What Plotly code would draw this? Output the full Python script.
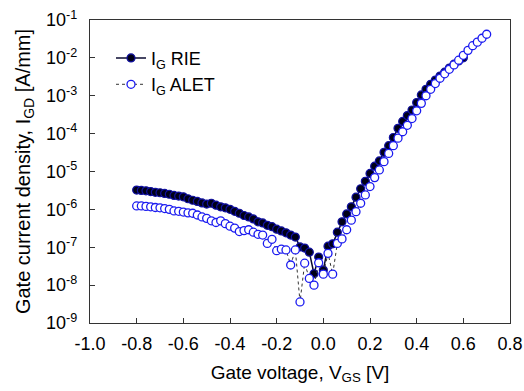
import plotly.graph_objects as go

# Gate voltage (V)
vgs_rie = [-0.80, -0.78, -0.76, -0.74, -0.72, -0.70, -0.68, -0.66, -0.64, -0.62,
           -0.60, -0.58, -0.56, -0.54, -0.52, -0.50, -0.48, -0.46, -0.44, -0.42,
           -0.40, -0.38, -0.36, -0.34, -0.32, -0.30, -0.28, -0.26, -0.24, -0.22,
           -0.20, -0.18, -0.16, -0.14, -0.12, -0.10, -0.08, -0.06, -0.04, -0.02,
           0.00, 0.02, 0.04, 0.06, 0.08, 0.10, 0.12, 0.14, 0.16, 0.18,
           0.20, 0.22, 0.24, 0.26, 0.28, 0.30, 0.32, 0.34, 0.36, 0.38,
           0.40, 0.42, 0.44, 0.46, 0.48, 0.50, 0.52, 0.54, 0.56, 0.58, 0.60]

ig_rie = [3.24e-6, 3.16e-6, 3.09e-6, 2.95e-6, 2.82e-6, 2.75e-6, 2.63e-6, 2.51e-6, 2.34e-6, 2.24e-6,
          2.14e-6, 1.91e-6, 1.74e-6, 1.62e-6, 1.48e-6, 1.38e-6, 1.45e-6, 1.29e-6, 1.17e-6, 1.10e-6,
          1.00e-6, 8.9e-7, 7.9e-7, 6.9e-7, 6.3e-7, 5.6e-7, 4.7e-7, 4.4e-7, 3.8e-7, 3.5e-7,
          3.0e-7, 2.7e-7, 2.4e-7, 2.1e-7, 1.86e-7, 1.02e-7, 9.5e-8, 7.4e-8, 2.0e-8, 5.5e-8,
          2.5e-8, 1.07e-7, 1.23e-7, 2.5e-7, 4.7e-7, 7.6e-7, 1.17e-6, 2.1e-6, 3.5e-6, 5.5e-6,
          8.9e-6, 1.38e-5, 1.9e-5, 3.2e-5, 4.8e-5, 7.9e-5, 1.38e-4, 2.1e-4, 3.0e-4, 4.2e-4,
          6.6e-4, 1.05e-3, 1.48e-3, 2.0e-3, 2.6e-3, 3.3e-3, 4.2e-3, 5.4e-3, 6.8e-3, 8.3e-3, 1.0e-2]

vgs_alet = [-0.80, -0.78, -0.76, -0.74, -0.72, -0.70, -0.68, -0.66, -0.64, -0.62,
            -0.60, -0.58, -0.56, -0.54, -0.52, -0.50, -0.48, -0.46, -0.44, -0.42,
            -0.40, -0.38, -0.36, -0.34, -0.32, -0.30, -0.28, -0.26, -0.24, -0.22,
            -0.20, -0.18, -0.16, -0.14, -0.12, -0.10, -0.08, -0.06, -0.04, -0.02,
            0.00, 0.02, 0.04, 0.06, 0.08, 0.10, 0.12, 0.14, 0.16, 0.18,
            0.20, 0.22, 0.24, 0.26, 0.28, 0.30, 0.32, 0.34, 0.36, 0.38,
            0.40, 0.42, 0.44, 0.46, 0.48, 0.50, 0.52, 0.54, 0.56, 0.58,
            0.60, 0.62, 0.64, 0.66, 0.68, 0.70]

ig_alet = [1.23e-6, 1.23e-6, 1.20e-6, 1.17e-6, 1.12e-6, 1.10e-6, 1.05e-6, 1.00e-6, 9.1e-7, 8.9e-7,
           8.5e-7, 8.1e-7, 7.9e-7, 7.1e-7, 6.3e-7, 5.8e-7, 5.0e-7, 4.5e-7, 5.0e-7, 4.2e-7,
           3.6e-7, 3.2e-7, 2.6e-7, 2.75e-7, 2.9e-7, 2.5e-7, 2.2e-7, 2.1e-7, 1.26e-7, 1.62e-7,
           8.1e-8, 8.9e-8, 8.5e-8, 3.4e-8, 8.5e-8, 3.6e-9, 3.8e-8, 1.5e-8, 1.0e-8, 3.9e-8,
           1.95e-8, 6.9e-8, 1.95e-8, 1.26e-7, 1.66e-7, 2.9e-7, 5.2e-7, 8.7e-7, 1.45e-6, 2.4e-6,
           4.0e-6, 6.9e-6, 1.10e-5, 1.82e-5, 3.0e-5, 4.8e-5, 7.6e-5, 1.12e-4, 1.66e-4, 2.5e-4,
           4.0e-4, 6.3e-4, 1.0e-3, 1.48e-3, 2.1e-3, 2.9e-3, 3.8e-3, 5.0e-3, 6.5e-3, 8.7e-3,
           1.17e-2, 1.58e-2, 2.1e-2, 2.6e-2, 3.3e-2, 4.2e-2]

x_tickvals = [-1.0, -0.8, -0.6, -0.4, -0.2, 0.0, 0.2, 0.4, 0.6, 0.8]
x_ticktext = ["-1.0", "-0.8", "-0.6", "-0.4", "-0.2", "0.0", "0.2", "0.4", "0.6", "0.8"]
y_tickvals = [1e-9, 1e-8, 1e-7, 1e-6, 1e-5, 1e-4, 1e-3, 1e-2, 1e-1]
y_ticktext = ["10<sup>-9</sup>", "10<sup>-8</sup>", "10<sup>-7</sup>", "10<sup>-6</sup>",
              "10<sup>-5</sup>", "10<sup>-4</sup>", "10<sup>-3</sup>", "10<sup>-2</sup>",
              "10<sup>-1</sup>"]

FONT = "Liberation Sans, Arial, sans-serif"

fig = go.Figure()
fig.add_trace(go.Scatter(
    x=vgs_rie, y=ig_rie, mode="lines+markers", name="I<sub>G</sub> RIE",
    line=dict(color="#0a0a30", width=1.5),
    marker=dict(symbol="circle", size=8, color="#000018",
                line=dict(color="#1010a0", width=1.2)),
))
fig.add_trace(go.Scatter(
    x=vgs_alet, y=ig_alet, mode="lines+markers", name="I<sub>G</sub> ALET",
    line=dict(color="#333333", width=1, dash="dot"),
    marker=dict(symbol="circle", size=8, color="white",
                line=dict(color="#1a1af0", width=1.3)),
))

fig.update_layout(
    width=524, height=391,
    margin=dict(l=90, r=14, t=20, b=68, autoexpand=False),
    paper_bgcolor="white", plot_bgcolor="white",
    font=dict(family=FONT, size=17, color="black"),
    showlegend=True,
    legend=dict(x=0.05, y=0.935, xanchor="left", yanchor="top",
                bgcolor="rgba(0,0,0,0)", font=dict(size=18),
                tracegroupgap=0, itemwidth=30),
    xaxis=dict(
        range=[-1.0, 0.8], tickvals=x_tickvals, ticktext=x_ticktext,
        ticks="inside", ticklen=5, tickwidth=1, tickcolor="#333",
        showline=True, linecolor="#333", linewidth=1.2, mirror=True,
        showgrid=False, zeroline=False, automargin=False,
        tickfont=dict(size=18), ticklabelstandoff=4,
        title=dict(text="Gate voltage, V<sub>GS</sub> [V]", font=dict(size=19), standoff=12),
    ),
    yaxis=dict(
        type="log", range=[-9, -1], tickvals=y_tickvals, ticktext=y_ticktext,
        ticks="inside", ticklen=5, tickwidth=1, tickcolor="#333",
        showline=True, linecolor="#333", linewidth=1.2, mirror=True,
        showgrid=False, zeroline=False, automargin=False,
        tickfont=dict(size=18), ticklabelstandoff=8,
        title=dict(text="Gate current density, I<sub>GD</sub> [A/mm]", font=dict(size=20), standoff=10),
    ),
)

fig.write_html("out.html", config={"displayModeBar": False},
               post_script="document.body.style.margin='0px';")
